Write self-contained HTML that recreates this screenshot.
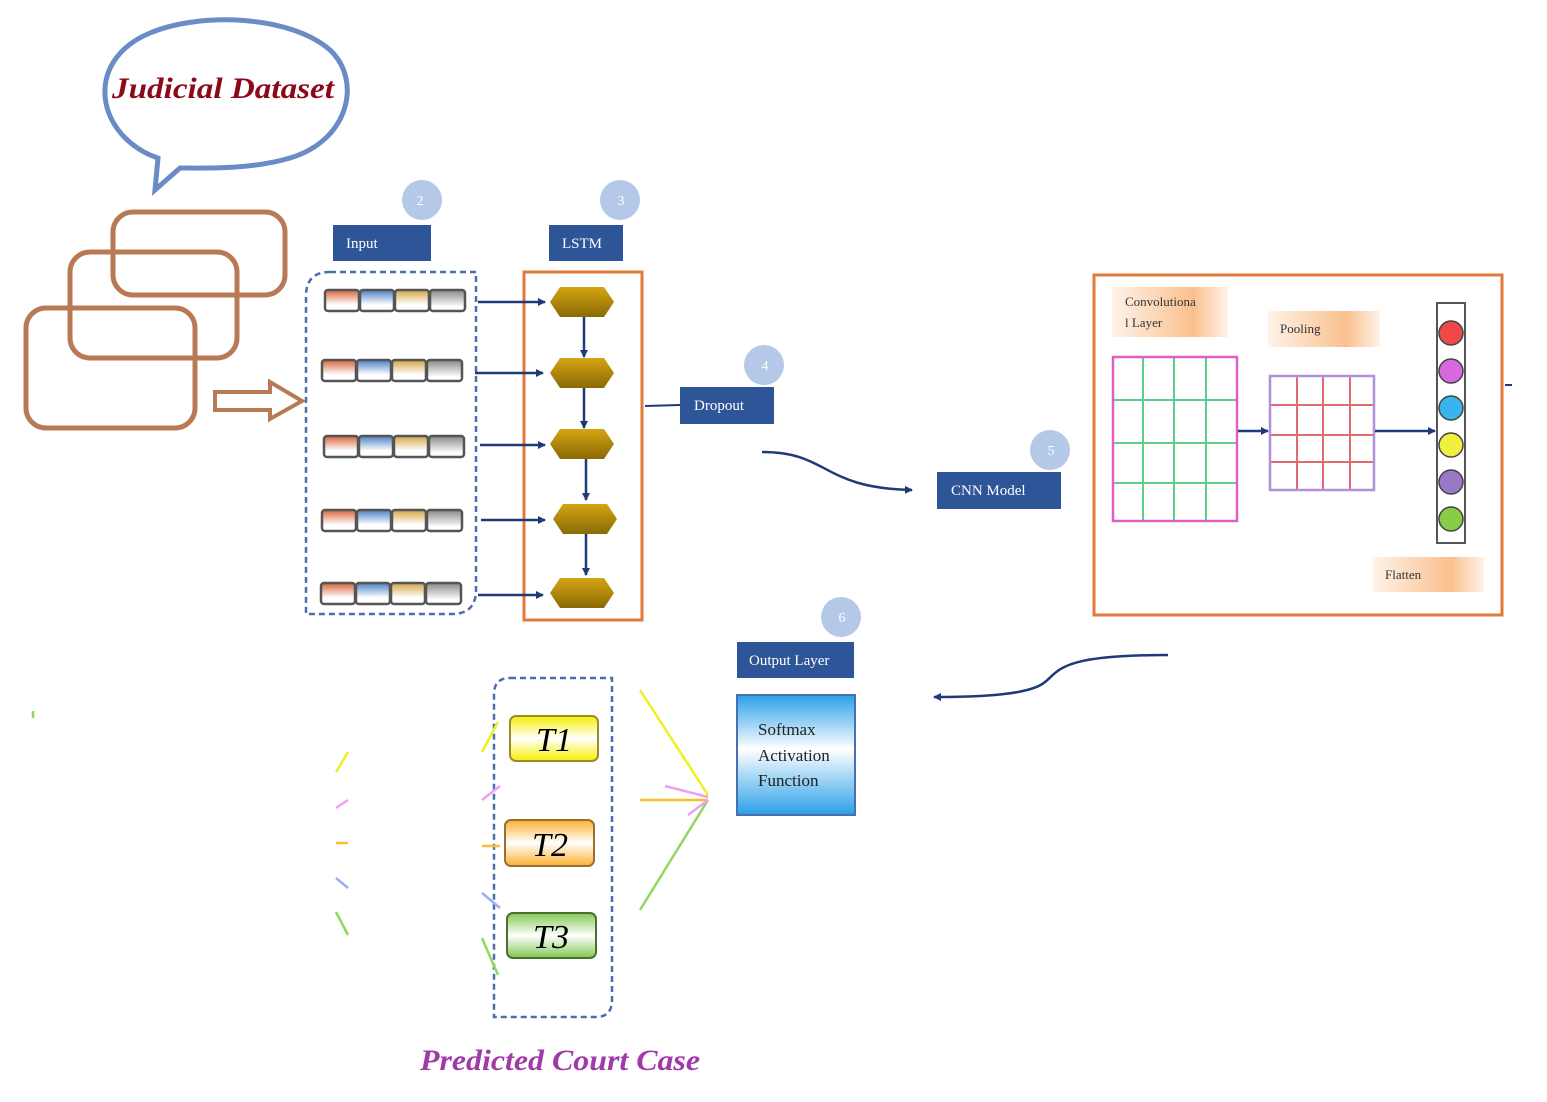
<!DOCTYPE html>
<html><head><meta charset="utf-8"><style>body{margin:0;background:#fff}svg{display:block}</style></head><body>
<svg width="1547" height="1102" viewBox="0 0 1547 1102" xmlns="http://www.w3.org/2000/svg" font-family="Liberation Serif, serif">
<defs>
<linearGradient id="hx" x1="0" y1="0" x2="0" y2="1"><stop offset="0" stop-color="#d4a412"/><stop offset="1" stop-color="#8a6a05"/></linearGradient>
<linearGradient id="cr" x1="0" y1="0" x2="0" y2="1"><stop offset="0" stop-color="#d9623a"/><stop offset="0.7" stop-color="#fff"/></linearGradient>
<linearGradient id="cb" x1="0" y1="0" x2="0" y2="1"><stop offset="0" stop-color="#4a7fc4"/><stop offset="0.7" stop-color="#fff"/></linearGradient>
<linearGradient id="cy" x1="0" y1="0" x2="0" y2="1"><stop offset="0" stop-color="#d4a440"/><stop offset="0.7" stop-color="#fff"/></linearGradient>
<linearGradient id="cg" x1="0" y1="0" x2="0" y2="1"><stop offset="0" stop-color="#888"/><stop offset="0.8" stop-color="#fff"/></linearGradient>
<linearGradient id="pe" x1="0" y1="0" x2="1" y2="0"><stop offset="0" stop-color="#fff3e8"/><stop offset="0.7" stop-color="#f9c08e"/><stop offset="1" stop-color="#fff3e8"/></linearGradient>
<linearGradient id="sm" x1="0" y1="0" x2="0" y2="1"><stop offset="0" stop-color="#2aa0e8"/><stop offset="0.45" stop-color="#fff"/><stop offset="1" stop-color="#2aa0e8"/></linearGradient>
<linearGradient id="t1" x1="0" y1="0" x2="0" y2="1"><stop offset="0" stop-color="#f5f000"/><stop offset="0.5" stop-color="#fff"/><stop offset="1" stop-color="#f5f000"/></linearGradient>
<linearGradient id="t2" x1="0" y1="0" x2="0" y2="1"><stop offset="0" stop-color="#fbb030"/><stop offset="0.5" stop-color="#fff"/><stop offset="1" stop-color="#fbb030"/></linearGradient>
<linearGradient id="t3" x1="0" y1="0" x2="0" y2="1"><stop offset="0" stop-color="#80c850"/><stop offset="0.5" stop-color="#fff"/><stop offset="1" stop-color="#80c850"/></linearGradient>
<marker id="ar" markerWidth="8" markerHeight="8" refX="7" refY="4" orient="auto" markerUnits="userSpaceOnUse"><path d="M0,0 L8,4 L0,8 z" fill="#1f3a78"/></marker>
</defs>

<path d="M150,155 C95,130 85,60 150,33 C200,12 290,15 330,50 C362,80 350,140 290,158 C250,170 200,168 180,168 L155,190 L158,158 Z" fill="none" stroke="#6a8cc6" stroke-width="5"/>
<text x="112" y="98" font-size="30" font-style="italic" font-weight="bold" fill="#8b0a1a" textLength="222" lengthAdjust="spacingAndGlyphs">Judicial Dataset</text>

<g fill="none" stroke="#b87a55" stroke-width="5">
<rect x="113" y="212" width="172" height="83" rx="20"/>
<rect x="70" y="252" width="167" height="106" rx="20"/>
<rect x="26" y="308" width="169" height="120" rx="20"/>
<path d="M215,392 L270,392 L270,382 L302,401 L270,419 L270,410 L215,410 Z" stroke-width="4"/>
</g>

<g fill="#b4c8e8">
<circle cx="422" cy="200" r="20"/><circle cx="620" cy="200" r="20"/><circle cx="764" cy="365" r="20"/><circle cx="1050" cy="450" r="20"/><circle cx="841" cy="617" r="20"/>
</g>
<g fill="#fff" font-size="14" text-anchor="middle"><text x="420" y="205">2</text><text x="621" y="205">3</text><text x="765" y="370">4</text><text x="1051" y="455">5</text><text x="842" y="622">6</text></g>

<g fill="#2e5597">
<rect x="333" y="225" width="98" height="36"/><rect x="549" y="225" width="74" height="36"/>
<rect x="680" y="387" width="94" height="37"/><rect x="937" y="472" width="124" height="37"/>
<rect x="737" y="642" width="117" height="36"/>
</g>
<g fill="#fff" font-size="15">
<text x="346" y="248">Input</text><text x="562" y="248">LSTM</text><text x="694" y="410">Dropout</text><text x="951" y="495">CNN Model</text><text x="749" y="665">Output Layer</text>
</g>

<path d="M330,272 L476,272 L476,590 Q476,614 452,614 L306,614 L306,296 Q306,272 330,272 Z" fill="none" stroke="#4a6fb0" stroke-width="2.5" stroke-dasharray="6,4"/>
<g stroke="#555" stroke-width="2.5">
<g id="bar">
<rect x="325" y="290" width="34" height="21" rx="3" fill="url(#cr)"/>
<rect x="360" y="290" width="34" height="21" rx="3" fill="url(#cb)"/>
<rect x="395" y="290" width="34" height="21" rx="3" fill="url(#cy)"/>
<rect x="430" y="290" width="35" height="21" rx="3" fill="url(#cg)"/>
</g>
<use href="#bar" x="-3" y="70"/><use href="#bar" x="-1" y="146"/><use href="#bar" x="-3" y="220"/><use href="#bar" x="-4" y="293"/>
</g>

<rect x="524" y="272" width="118" height="348" fill="none" stroke="#e07b39" stroke-width="3"/>
<g stroke="#1f3a78" stroke-width="2.5" marker-end="url(#ar)">
<line x1="478" y1="302" x2="545" y2="302"/><line x1="475" y1="373" x2="543" y2="373"/><line x1="480" y1="445" x2="545" y2="445"/><line x1="481" y1="520" x2="545" y2="520"/><line x1="478" y1="595" x2="543" y2="595"/>
<line x1="584" y1="316" x2="584" y2="357"/><line x1="584" y1="387" x2="584" y2="428"/><line x1="586" y1="458" x2="586" y2="500"/><line x1="586" y1="533" x2="586" y2="575"/>
</g>
<g fill="url(#hx)">
<path id="hx1" d="M560,287 L604,287 L614,302 L604,317 L560,317 L550,302 Z"/>
<use href="#hx1" x="0" y="71"/><use href="#hx1" x="0" y="142"/><use href="#hx1" x="3" y="217"/><use href="#hx1" x="0" y="291"/>
</g>

<line x1="645" y1="406" x2="680" y2="405" stroke="#1f3a78" stroke-width="2"/>
<path d="M762,452 C830,452 820,488 912,490" fill="none" stroke="#1f3a78" stroke-width="2.5" marker-end="url(#ar)"/>

<rect x="1094" y="275" width="408" height="340" fill="none" stroke="#e07b39" stroke-width="3"/>
<line x1="1505" y1="385" x2="1512" y2="385" stroke="#1f3a78" stroke-width="2"/>
<rect x="1112" y="287" width="116" height="50" fill="url(#pe)"/>
<rect x="1268" y="311" width="112" height="36" fill="url(#pe)"/>
<rect x="1373" y="557" width="111" height="35" fill="url(#pe)"/>
<g font-size="13" fill="#333"><text x="1125" y="306">Convolutiona</text><text x="1125" y="327">l Layer</text><text x="1280" y="333">Pooling</text><text x="1385" y="579">Flatten</text></g>
<g stroke="#5ccf8a" stroke-width="2">
<line x1="1143" y1="357" x2="1143" y2="521"/><line x1="1174" y1="357" x2="1174" y2="521"/><line x1="1206" y1="357" x2="1206" y2="521"/>
<line x1="1113" y1="400" x2="1237" y2="400"/><line x1="1113" y1="443" x2="1237" y2="443"/><line x1="1113" y1="483" x2="1237" y2="483"/>
</g>
<rect x="1113" y="357" width="124" height="164" fill="none" stroke="#e060c0" stroke-width="2.5"/>
<g stroke="#e06a70" stroke-width="2">
<line x1="1297" y1="376" x2="1297" y2="490"/><line x1="1323" y1="376" x2="1323" y2="490"/><line x1="1350" y1="376" x2="1350" y2="490"/>
<line x1="1270" y1="405" x2="1374" y2="405"/><line x1="1270" y1="435" x2="1374" y2="435"/><line x1="1270" y1="462" x2="1374" y2="462"/>
</g>
<rect x="1270" y="376" width="104" height="114" fill="none" stroke="#b090d8" stroke-width="2.5"/>
<g stroke="#1f3a78" stroke-width="2.5" marker-end="url(#ar)"><line x1="1238" y1="431" x2="1268" y2="431"/><line x1="1375" y1="431" x2="1435" y2="431"/></g>
<rect x="1437" y="303" width="28" height="240" fill="#fff" stroke="#555" stroke-width="2"/>
<g stroke="#444" stroke-width="1.5">
<circle cx="1451" cy="333" r="12" fill="#f04848"/><circle cx="1451" cy="371" r="12" fill="#d868e0"/><circle cx="1451" cy="408" r="12" fill="#3ab4ec"/><circle cx="1451" cy="445" r="12" fill="#f0f040"/><circle cx="1451" cy="482" r="12" fill="#9a78c8"/><circle cx="1451" cy="519" r="12" fill="#88cc48"/>
</g>

<path d="M1168,655 C1060,655 1060,670 1045,682 C1030,695 980,697 934,697" fill="none" stroke="#1f3a78" stroke-width="2.5" marker-end="url(#ar)"/>

<rect x="737" y="695" width="118" height="120" fill="url(#sm)" stroke="#4a6fb0" stroke-width="2"/>
<g font-size="17" fill="#222"><text x="758" y="735">Softmax</text><text x="758" y="761">Activation</text><text x="758" y="786">Function</text></g>

<path d="M510,678 L612,678 L612,1000 Q612,1017 596,1017 L494,1017 L494,694 Q494,678 510,678 Z" fill="none" stroke="#4a6fb0" stroke-width="2.5" stroke-dasharray="6,4"/>
<rect x="510" y="716" width="88" height="45" rx="6" fill="url(#t1)" stroke="#9a8a30" stroke-width="2"/>
<rect x="505" y="820" width="89" height="46" rx="6" fill="url(#t2)" stroke="#9a7030" stroke-width="2"/>
<rect x="507" y="913" width="89" height="45" rx="6" fill="url(#t3)" stroke="#4a7030" stroke-width="2"/>
<g font-size="34" font-style="italic" fill="#000" text-anchor="middle"><text x="554" y="751">T1</text><text x="550" y="856">T2</text><text x="551" y="948">T3</text></g>

<g stroke-width="2.5" fill="none">
<line x1="640" y1="690" x2="708" y2="795" stroke="#f0f020"/>
<line x1="640" y1="800" x2="708" y2="800" stroke="#f8c030"/>
<line x1="640" y1="910" x2="708" y2="800" stroke="#90d860"/>
<path d="M665,786 L708,797 M688,815 L708,800" stroke="#f0a0f0"/>
<line x1="482" y1="752" x2="498" y2="722" stroke="#f0f020"/>
<line x1="482" y1="800" x2="500" y2="786" stroke="#f0a0f0"/>
<line x1="482" y1="846" x2="500" y2="846" stroke="#f8c030"/>
<line x1="482" y1="893" x2="500" y2="908" stroke="#9ab0f0"/>
<line x1="482" y1="938" x2="498" y2="975" stroke="#90d860"/>
<line x1="336" y1="772" x2="348" y2="752" stroke="#f0f020"/>
<line x1="336" y1="808" x2="348" y2="800" stroke="#f0a0f0"/>
<line x1="336" y1="843" x2="348" y2="843" stroke="#f8c030"/>
<line x1="336" y1="878" x2="348" y2="888" stroke="#9ab0f0"/>
<line x1="336" y1="912" x2="348" y2="935" stroke="#90d860"/>
<line x1="33" y1="711" x2="33" y2="718" stroke="#90d860"/>
</g>

<text x="420" y="1070" font-size="30" font-style="italic" font-weight="bold" fill="#a03aa8" textLength="280" lengthAdjust="spacingAndGlyphs">Predicted Court Case</text>
</svg>
</body></html>
